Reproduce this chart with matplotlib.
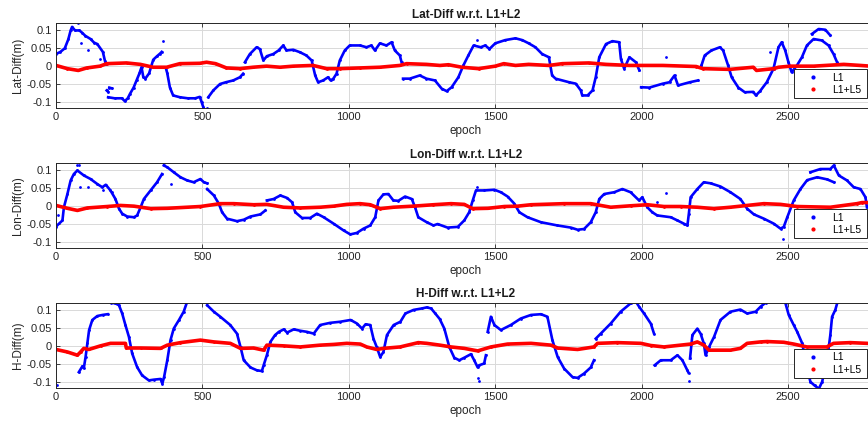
import numpy as np
import matplotlib
matplotlib.use("Agg")
import matplotlib.pyplot as plt
from matplotlib.lines import Line2D

nan = np.nan

# --- valores (epoch, diferencia en m); nan = hueco ---
lat_l1_ep = [0, 15, 30, 42, 50, 55, 65, 80, 90, 100, 118, 130, 141, 160, 167, 172, nan,
             178, 200, 225, 235, 245, 253, 265, 275, 285, 292, 298, 305, 318, 332, 345, 355, 361, nan,
             375, 380, 389, 400, 423, 450, 475, 491, 497, 503, nan,
             520, 537, 560, 580, 605, 628, 639, nan,
             645, 662, 685, 696, 708, 720, 742, 760, 776, 787, 810, 833, 855, 873, 885, 895, 912, 929,
             938, 947, 958, 969, 986, 1003, 1038, 1060, 1077, 1089, 1106, 1128, 1146, 1157, 1174, 1180, nan,
             1185, 1208, 1242, 1265, 1294, 1317, 1334, 1351, 1374, 1391, 1408, 1426, 1450, 1466, 1480,
             1500, 1534, 1569, 1592, 1614, 1637, 1660, 1683, 1694, 1706, 1752, 1775, 1792, 1797, 1815,
             1832, 1843, 1855, 1878, 1900, 1923, 1929, 1940, 1958, 1980, 1992, nan,
             1998, 2026, 2072, 2095, 2112, 2124, 2164, 2192, nan,
             2204, 2215, 2238, 2267, 2278, 2295, 2307, 2330, 2352, 2381, 2390, 2404, 2427, 2450, 2467,
             2478, 2490, 2501, 2512, 2530, 2547, 2564, 2587, 2615, 2638, 2655, 2667, nan,
             2581, 2604, 2627, 2644, nan,
             76, nan, 84, nan, 110, nan, 150, nan, 173, 178, nan, 182, 190, nan, 366, nan, 514, nan,
             1437, nan, 2083, nan, 2438]
lat_l1 = [0.034, 0.04, 0.05, 0.075, 0.1, 0.11, 0.1, 0.1, 0.093, 0.085, 0.076, 0.066, 0.062, 0.04, 0.015, 0.005, nan,
          -0.087, -0.09, -0.09, -0.098, -0.09, -0.077, -0.06, -0.04, -0.02, -0.003, -0.03, -0.035, -0.02, 0.018, 0.028, 0.035, 0.04, nan,
          -0.005, -0.02, -0.06, -0.082, -0.087, -0.09, -0.09, -0.086, -0.1, -0.115, nan,
          -0.087, -0.068, -0.05, -0.045, -0.04, -0.031, -0.021, nan,
          0.011, 0.034, 0.053, 0.048, 0.016, 0.028, 0.034, 0.044, 0.058, 0.044, 0.046, 0.039, 0.03, 0.016, -0.026, -0.045, -0.04, -0.031,
          -0.04, -0.035, -0.021, 0.016, 0.044, 0.058, 0.058, 0.053, 0.058, 0.044, 0.064, 0.058, 0.067, 0.044, 0.03, 0.011, nan,
          -0.035, -0.035, -0.026, -0.035, -0.04, -0.063, -0.07, -0.059, -0.031, 0.002, 0.03, 0.058, 0.053, 0.058, 0.048,
          0.064, 0.073, 0.078, 0.073, 0.064, 0.053, 0.034, 0.025, -0.026, -0.035, -0.045, -0.049, -0.068, -0.082, -0.082,
          -0.068, -0.031, 0.025, 0.062, 0.07, 0.067, 0.02, -0.007, 0.025, 0.011, -0.012, nan,
          -0.059, -0.06, -0.049, -0.045, -0.026, -0.054, -0.045, -0.04, nan,
          0.002, 0.03, 0.044, 0.053, 0.044, 0.002, -0.031, -0.06, -0.073, -0.072, -0.082, -0.07, -0.045, -0.007, 0.053,
          0.067, 0.044, 0.011, -0.017, 0.002, 0.025, 0.058, 0.076, 0.072, 0.058, 0.034, 0.011, nan,
          0.09, 0.104, 0.102, 0.086, nan,
          0.12, nan, 0.064, nan, 0.044, nan, 0.02, nan, -0.068, -0.072, nan, -0.06, -0.062, nan, 0.07, nan, -0.118, nan,
          0.073, nan, 0.025, nan, 0.04]

lat_l5_ep = [0, 39, 76, 105, 150, 173, 241, 288, 332, 378, 423, 491, 514, 545, 582, 628, 673, 719, 765, 810,
             878, 924, 969, 1038, 1106, 1174, 1197, 1265, 1311, 1340, 1386, 1443, 1500, 1529, 1569, 1614, 1683,
             1729, 1820, 1878, 1958, 2072, 2186, 2209, 2301, 2381, 2392, 2450, 2467, 2507, 2587, 2690, 2747, 2780]
lat_l5 = [0.002, -0.007, -0.012, -0.005, 0.0, 0.007, 0.009, 0.005, -0.003, -0.003, 0.007, 0.008, 0.011, 0.007, -0.005,
          -0.007, -0.003, 0.0, -0.003, 0.0, 0.002, -0.007, -0.007, -0.005, -0.003, 0.002, 0.007, 0.005, 0.002, 0.004,
          -0.003, -0.007, 0.0, 0.007, 0.002, 0.005, 0.002, 0.007, 0.009, 0.005, 0.002, 0.002, -0.001, -0.007, -0.009,
          -0.003, -0.012, -0.007, -0.003, 0.0, 0.0, 0.005, 0.002, 0.0]

lon_l1_ep = [0, 22, 27, 39, 50, 61, 73, 95, 118, 141, 158, 170, 186, 203, 215, 226, 243, 266, 277, 289, 300, 323,
             345, 362, nan,
             368, 380, 402, 425, 448, 470, 493, 505, 516, nan,
             516, 539, 556, 567, 584, 618, 641, 664, 698, 715, nan,
             720, 743, 766, 789, 806, 817, 840, 868, 891, 914, 948, 982, 1005, 1027, 1050, 1073, 1090, 1101, 1118,
             1135, 1152, 1169, 1192, 1215, 1226, 1237, 1266, 1289, 1303, 1337, 1372, 1394, 1411, 1423, 1434, 1463,
             1497, 1519, 1542, 1565, 1582, 1610, 1656, 1712, 1758, 1781, 1803, 1826, 1843, 1855, 1872, 1906, 1934,
             1962, 1991, 2002, 2019, 2036, 2053, 2099, 2122, 2144, 2156, 2161, 2167, 2190, 2212, 2235, 2269, 2303,
             2337, 2360, 2383, 2417, 2451, 2474, 2485, 2497, 2519, 2542, 2565, 2599, 2633, 2656, nan,
             2576, 2610, 2644, 2656, 2673, 2701, 2724, 2747, 2764, 2769, nan,
             8, nan, 70, nan, 78, nan, 82, nan, 110, nan, 160, nan, 190, nan, 393, nan, 1437, nan, 2053, nan,
             2082, nan, 2483]
lon_l1 = [-0.057, -0.04, -0.003, 0.034, 0.072, 0.09, 0.1, 0.086, 0.076, 0.062, 0.053, 0.06, 0.044, 0.02, -0.007,
          -0.021, -0.029, -0.031, -0.026, -0.003, 0.02, 0.044, 0.067, 0.09, nan,
          0.114, 0.109, 0.095, 0.081, 0.072, 0.067, 0.076, 0.067, 0.064, nan,
          0.048, 0.03, 0.007, -0.017, -0.035, -0.042, -0.038, -0.029, -0.023, -0.012, nan,
          0.016, 0.02, 0.03, 0.023, 0.011, -0.017, -0.033, -0.033, -0.021, -0.031, -0.049, -0.068, -0.079, -0.075,
          -0.063, -0.054, -0.031, 0.016, 0.033, 0.034, 0.016, 0.015, 0.027, 0.02, -0.003, -0.031, -0.045, -0.054,
          -0.05, -0.06, -0.058, -0.04, -0.017, 0.016, 0.044, 0.044, 0.046, 0.039, 0.027, 0.007, -0.017, -0.031,
          -0.045, -0.054, -0.06, -0.066, -0.064, -0.045, -0.017, 0.02, 0.034, 0.039, 0.048, 0.039, 0.016, 0.025,
          -0.003, -0.017, -0.026, -0.031, -0.04, -0.049, -0.054, -0.021, 0.025, 0.048, 0.067, 0.064, 0.055, 0.039,
          0.02, -0.007, -0.023, -0.035, -0.049, -0.063, -0.058, -0.031, 0.016, 0.048, 0.073, 0.081, 0.075, 0.067, nan,
          0.095, 0.104, 0.104, 0.114, 0.086, 0.072, 0.053, 0.048, 0.025, -0.003, nan,
          -0.026, nan, 0.114, nan, 0.116, nan, 0.055, nan, 0.053, nan, 0.045, nan, 0.04, nan, 0.062, nan, 0.053,
          nan, 0.011, nan, 0.037, nan, -0.093]

lon_l5_ep = [0, 39, 73, 107, 175, 220, 266, 323, 380, 448, 493, 561, 607, 675, 720, 777, 834, 902, 948, 993, 1038,
             1073, 1107, 1152, 1220, 1289, 1349, 1394, 1423, 1475, 1531, 1576, 1622, 1735, 1826, 1894, 1962, 2019,
             2076, 2133, 2190, 2246, 2303, 2360, 2417, 2474, 2530, 2644, 2735, 2752, 2780]
lon_l5 = [0.002, -0.006, -0.012, -0.005, -0.001, 0.002, 0.0, -0.007, -0.006, -0.003, -0.001, 0.007, 0.007, 0.004,
          0.005, -0.003, -0.005, -0.003, 0.0, 0.005, 0.007, 0.004, -0.007, -0.003, 0.0, 0.004, 0.007, 0.005, -0.007,
          -0.006, -0.001, 0.0, 0.004, 0.007, 0.007, -0.003, 0.001, 0.004, -0.001, -0.001, -0.003, -0.007, -0.003,
          0.002, 0.007, 0.005, -0.001, -0.003, 0.007, 0.01, 0.01]

h_l1_ep = [78, 90, 95, 101, 107, 113, 124, 141, 159, 176, nan,
           188, 203, 215, 226, 237, 249, 260, 277, 294, 317, 334, 357, 363, 369, 380, 391, 402, 420, 436, 448, nan,
           516, 539, 561, 595, 618, 630, 641, 664, 686, 703, 709, 720, 732, 748, 761, 778, 789, 812, 834, 857, 880,
           902, 936, 970, 1006, 1028, 1045, 1057, 1073, 1084, 1095, 1107, 1118, 1130, 1153, 1176, 1193, 1221, 1249,
           1266, 1281, 1295, 1310, 1326, 1343, 1360, 1377, 1394, 1417, 1428, 1440, 1445, 1462, 1468, nan,
           1474, 1485, 1497, 1519, 1553, 1587, 1622, 1656, 1678, 1695, 1713, 1735, 1764, 1781, 1803, 1826, 1837, nan,
           1843, 1860, 1894, 1928, 1962, 1980, 1991, 2008, 2031, 2042, nan,
           2044, 2065, 2099, 2122, 2139, 2156, 2160, nan,
           2165, 2173, 2190, 2201, 2212, 2218, 2230, 2247, 2269, 2303, 2337, 2360, 2389, 2406, 2423, nan,
           2491, 2502, 2519, 2531, 2548, 2565, 2576, 2590, 2605, 2616, 2633, 2644, 2650, 2661, 2669, nan,
           2, nan, 27, nan, 1440, nan, 1443, nan, 2160]
h_l1 = [-0.073, -0.057, -0.062, -0.031, 0.007, 0.044, 0.072, 0.083, 0.086, 0.088, nan,
        0.12, 0.118, 0.113, 0.09, 0.058, 0.025, -0.021, -0.059, -0.082, -0.096, -0.094, -0.092, -0.105, -0.087,
        -0.04, 0.016, 0.048, 0.072, 0.095, 0.123, nan,
        0.113, 0.095, 0.081, 0.058, 0.034, -0.003, -0.04, -0.06, -0.068, -0.07, -0.054, -0.026, 0.011, 0.03, 0.039,
        0.046, 0.037, 0.046, 0.042, 0.039, 0.034, 0.058, 0.064, 0.067, 0.072, 0.062, 0.048, 0.06, 0.058, 0.02,
        -0.003, -0.031, -0.017, 0.03, 0.058, 0.067, 0.09, 0.1, 0.104, 0.107, 0.104, 0.09, 0.075, 0.048, -0.003,
        -0.033, -0.04, -0.033, -0.023, -0.04, -0.06, -0.054, -0.049, -0.026, nan,
        0.039, 0.081, 0.058, 0.044, 0.058, 0.076, 0.086, 0.088, 0.081, 0.016, -0.031, -0.063, -0.087, -0.089,
        -0.077, -0.06, -0.04, nan,
        0.02, 0.034, 0.062, 0.095, 0.118, 0.123, 0.109, 0.09, 0.062, 0.034, nan,
        -0.054, -0.04, -0.04, -0.026, -0.04, -0.068, -0.075, nan,
        -0.035, 0.03, 0.048, 0.034, 0.007, -0.026, -0.003, 0.025, 0.072, 0.095, 0.101, 0.09, 0.095, 0.109, 0.12, nan,
        0.118, 0.086, 0.058, 0.039, 0.007, -0.063, -0.1, -0.11, -0.119, -0.1, -0.04, 0.03, 0.081, 0.1, 0.123, nan,
        -0.11, nan, -0.119, nan, -0.09, nan, -0.098, nan, -0.099]

h_l5_ep = [0, 39, 73, 84, 95, 112, 152, 186, 237, 240, 289, 357, 380, 425, 493, 539, 595, 630, 675, 709, 720,
           777, 834, 902, 948, 993, 1039, 1061, 1095, 1118, 1175, 1237, 1266, 1311, 1349, 1394, 1440, 1485, 1542,
           1622, 1690, 1713, 1781, 1837, 1849, 1917, 1997, 2031, 2076, 2167, 2190, 2212, 2230, 2303, 2337, 2360,
           2406, 2428, 2485, 2519, 2564, 2632, 2655, 2712, 2769]
h_l5 = [-0.01, -0.017, -0.026, -0.017, -0.007, -0.01, 0.0, 0.007, 0.007, -0.006, -0.006, -0.007, 0.002, 0.009,
        0.016, 0.011, 0.007, -0.007, -0.006, -0.012, 0.002, 0.0, -0.003, 0.002, 0.004, 0.007, 0.005, -0.003, -0.01,
        -0.007, -0.003, 0.009, 0.007, 0.002, -0.003, -0.007, -0.014, -0.003, 0.005, 0.007, 0.002, -0.006, -0.01,
        -0.003, 0.007, 0.009, 0.007, 0.001, -0.003, 0.005, 0.011, 0.002, -0.012, -0.012, -0.007, 0.007, 0.011,
        0.012, 0.01, 0.005, -0.003, -0.003, 0.007, 0.009, 0.007]

panels = [
    ("Lat-Diff w.r.t. L1+L2", "Lat-Diff(m)", lat_l1_ep, lat_l1, lat_l5_ep, lat_l5),
    ("Lon-Diff w.r.t. L1+L2", "Lon-Diff(m)", lon_l1_ep, lon_l1, lon_l5_ep, lon_l5),
    ("H-Diff w.r.t. L1+L2", "H-Diff(m)", h_l1_ep, h_l1, h_l5_ep, h_l5),
]

plt.rcParams['font.family'] = ['Liberation Sans', 'DejaVu Sans']
fig = plt.figure(figsize=(8.68, 4.25), dpi=100)

left = 56 / 868
width = 820 / 868
tops = [23.3, 163.3, 302.7]
bottoms = [108.3, 248.3, 388.3]
txt = '#262626'

for (title, ylab, ep1, v1, ep5, v5), t, b in zip(panels, tops, bottoms):
    ax = fig.add_axes([left, 1 - b / 425, width, (b - t) / 425])
    ax.plot(ep1, v1, color='b', lw=1.9, marker='.', ms=4, mew=0, label='L1')
    ax.plot(ep5, v5, color='r', lw=2.6, marker='.', ms=4, mew=0, label='L1+L5')
    ax.set_xlim(0, 2800)
    ax.set_ylim(-0.118, 0.12)
    ax.set_xticks([0, 500, 1000, 1500, 2000, 2500])
    ax.set_yticks([-0.1, -0.05, 0, 0.05, 0.1])
    ax.set_yticklabels(['-0.1', '-0.05', '0', '0.05', '0.1'])
    ax.tick_params(direction='in', top=True, right=True, labelsize=8, colors=txt,
                   length=3, width=0.6, pad=3)
    ax.grid(True, color='#d9d9d9', lw=0.7)
    ax.set_axisbelow(True)
    for s in ax.spines.values():
        s.set_color('#262626')
        s.set_linewidth(0.7)
    ax.set_title(title, fontsize=8.5, fontweight='bold', pad=4, color='#1a1a1a')
    ax.set_xlabel('epoch', fontsize=8.5, color=txt, labelpad=2)
    ax.set_ylabel(ylab, fontsize=8.5, color=txt, labelpad=2)

    handles = [Line2D([], [], color='b', marker='.', ls='none', ms=4),
               Line2D([], [], color='r', marker='.', ls='none', ms=4)]
    leg = ax.legend(handles, ['L1', 'L1+L5'], loc='lower left', bbox_to_anchor=(0.9, 0.118, 0.089, 0.353),
                    mode='expand', fontsize=7.5, fancybox=False, framealpha=1, edgecolor='#262626',
                    borderpad=0.3, handlelength=3.0, handletextpad=0.4, labelspacing=0.25, borderaxespad=0)
    leg.get_frame().set_linewidth(0.7)

fig.savefig('out.png', dpi=100)
